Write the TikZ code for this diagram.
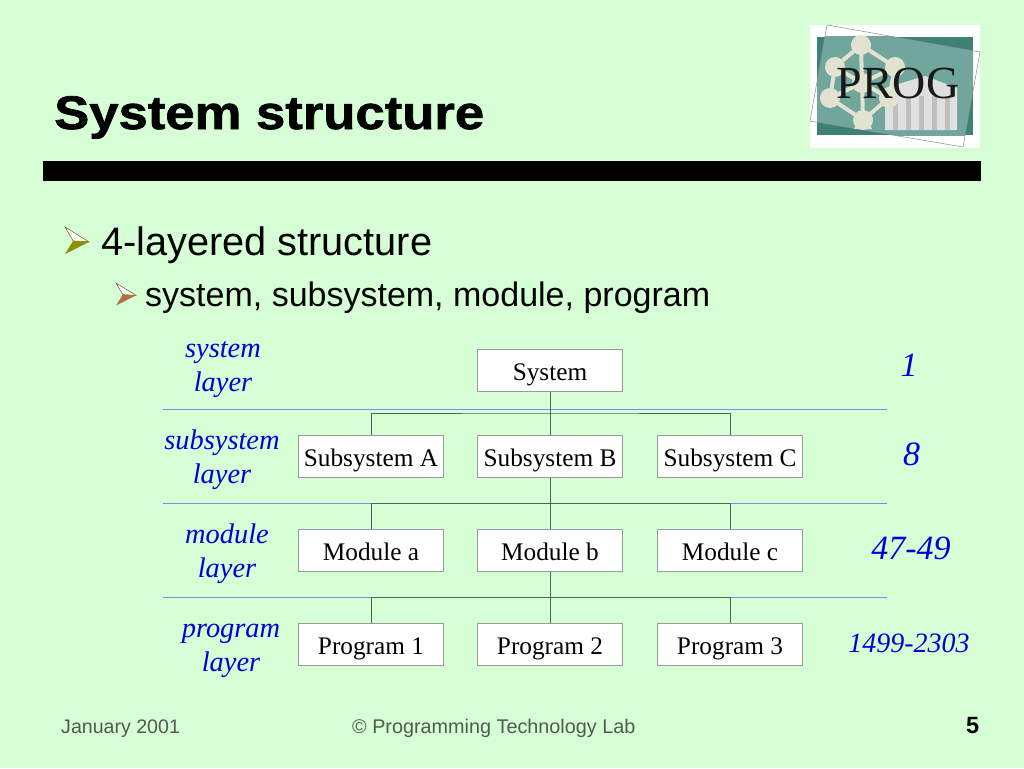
\documentclass[tikz,border=0pt]{standalone}
\usepackage{fontspec}
\setmainfont{Liberation Serif}
\setsansfont{Liberation Sans}
\newfontfamily\titlefont[BoldFeatures={FakeBold=1.5,FakeStretch=1.12}]{Liberation Sans}
\usetikzlibrary{positioning}
\definecolor{slidebg}{RGB}{214,255,214}
\definecolor{logoteal}{RGB}{62,128,116}
\definecolor{logolight}{RGB}{112,166,156}
\definecolor{atomcol}{RGB}{226,226,208}
\definecolor{bulletone}{RGB}{143,143,0}
\definecolor{bullettwo}{RGB}{176,112,64}
\definecolor{layerline}{RGB}{120,140,235}
\definecolor{linkcol}{RGB}{70,105,90}
\definecolor{footgrey}{RGB}{80,90,80}
\tikzset{
  unitbox/.style={draw=black!40, fill=white, minimum width=145pt, minimum height=42pt, inner sep=0pt, text height=26pt, text depth=7pt, font=\fontsize{25.3}{30}\selectfont},
  layername/.style={text=blue!85!black, align=center, inner sep=0pt, font=\fontsize{28.4}{34}\selectfont\itshape},
  count/.style={text=blue!85!black, inner sep=0pt, anchor=base, font=\fontsize{34}{40}\selectfont\itshape},
  link/.style={draw=linkcol, line width=.8pt},
  sep/.style={draw=layerline, line width=.8pt},
  atomlink/.style={draw=atomcol, line width=4pt},
  atom/.style={circle, fill=atomcol, inner sep=0pt, minimum size=20pt},
  plain/.style={inner sep=0pt, anchor=base west, font=\sffamily}
}
\def\bul#1#2#3#4{
  \draw[fill=white, draw=#1!70!black, line width=.5pt] (#2,#3) -- (#2+#4*1.0,#3+#4*.62) -- (#2+#4*.34,#3+#4*.58) -- cycle;
  \fill[#1] (#2,#3+#4*1.13) -- (#2+#4*1.0,#3+#4*.62) -- (#2+#4*.34,#3+#4*.58) -- cycle;
}
\begin{document}
\begin{tikzpicture}[x=1pt,y=-1pt]
        \fill[slidebg] (0,0) rectangle (1024,768);
        \useasboundingbox (0,0) rectangle (1024,768);
        % logo
        \fill[white] (810,25) rectangle (980,148);
        \fill[logoteal] (817,37) rectangle (973,135);
        \begin{scope}
          \clip (817,37) rectangle (973,135);
          \fill[logolight] (827,25) -- (980,52) -- (963,147) -- (810,121) -- cycle;
        \end{scope}
        \draw[black!45, line width=.5pt] (827,25) -- (980,52) -- (963,147) -- (810,121) -- cycle;
        \fill[black!12] (885,130) -- (885,88) -- (925,76) -- (957,88) -- (957,130) -- cycle;
        \foreach \x in {893,906,919,932,945}{
          \fill[black!25] (\x,96) rectangle (\x+5,130);
        }
        \coordinate (at1) at (861,45);
        \coordinate (at2) at (895,67);
        \coordinate (at3) at (835,67);
        \coordinate (at4) at (830,98);
        \coordinate (at5) at (889,98);
        \coordinate (at6) at (863,120);
        \coordinate (at7) at (862,83);
        \draw[atomlink] (at1) -- (at2) -- (at5) -- (at6) -- (at4) -- (at3) -- (at1) -- (at6) (at3) -- (at7) -- (at5) (at4) -- (at7) -- (at2);
        \foreach \x in {at1,at2,at3,at4,at5,at6,at7}{
          \node[atom] at (\x) {};
        }
        \fill[atomcol] (854,129) -- (872,129) -- (868,120) -- (858,120) -- cycle;
        \node[inner sep=0pt, anchor=base, text=black!90, font=\fontsize{46}{50}\selectfont] (logo) at (898,98) {PROG};
        % title
        \node[plain, font=\titlefont\bfseries\fontsize{47}{54}\selectfont] (title) at (54,129) {System structure};
        \fill[black] (43,161) rectangle (981,181);
        \bul{bulletone}{65}{227}{24}
        \bul{bullettwo}{116}{283}{20}
        \node[plain] (item) at (101,255) {\fontsize{39.7}{46}\selectfont 4-layered structure};
        \node[plain] (subitem) at (145,306) {\fontsize{34}{40}\selectfont system, subsystem, module, program};
        % connectors
        \coordinate (busa) at (550,413);
        \coordinate (busb) at (550,503.5);
        \coordinate (busc) at (550,597.5);
        % boxes
        \node[unitbox] (sys) at (550,370.5) {System};
        \node[unitbox] (suba) at (371,456.5) {Subsystem A};
        \node[unitbox] (subb) at (550,456.5) {Subsystem B};
        \node[unitbox] (subc) at (730,456.5) {Subsystem C};
        \node[unitbox] (moda) at (371,550.5) {Module a};
        \node[unitbox] (modb) at (550,550.5) {Module b};
        \node[unitbox] (modc) at (730,550.5) {Module c};
        \node[unitbox] (proa) at (371,644.5) {Program 1};
        \node[unitbox] (prob) at (550,644.5) {Program 2};
        \node[unitbox] (proc) at (730,644.5) {Program 3};
        % layer lines
        \coordinate (la) at (163,409.5);
        \coordinate (lb) at (887,409.5);
        \coordinate (lc) at (163,503.5);
        \coordinate (ld) at (887,503.5);
        \coordinate (le) at (163,597.5);
        \coordinate (lf) at (887,597.5);
        \draw[sep] (la) -- (lb) (lc) -- (ld) (le) -- (lf);
        \draw[link] (sys) -- (subb) (suba) |- (busa) -| (subc);
        \draw[link] (subb) -- (modb) (moda) |- (busb) -| (modc);
        \draw[link] (modb) -- (prob) (proa) |- (busc) -| (proc);
        % labels
        \node[layername] (lsys) at (223,370) {system\\layer};
        \node[layername] (lsub) at (222,460) {subsystem\\layer};
        \node[layername] (lmod) at (227,554) {module\\layer};
        \node[layername] (lpro) at (231,650.5) {program\\layer};
        \node[count] (none) at (909,376) {1};
        \node[count] (neight) at (911.5,465) {8};
        \node[count] (nmod) at (911,559) {47-49};
        \node[count, font=\fontsize{28}{34}\selectfont\itshape] (npro) at (909,652.5) {1499-2303};
        % footer
        \node[plain, text=footgrey] (date) at (61,733) {\fontsize{19.6}{24}\selectfont January 2001};
        \node[plain, text=footgrey] (lab) at (352,733) {\fontsize{19.8}{24}\selectfont © Programming Technology Lab};
        \node[plain] (page) at (966,733) {\fontsize{23.5}{28}\selectfont\bfseries 5};
      \end{tikzpicture}
\end{document}
